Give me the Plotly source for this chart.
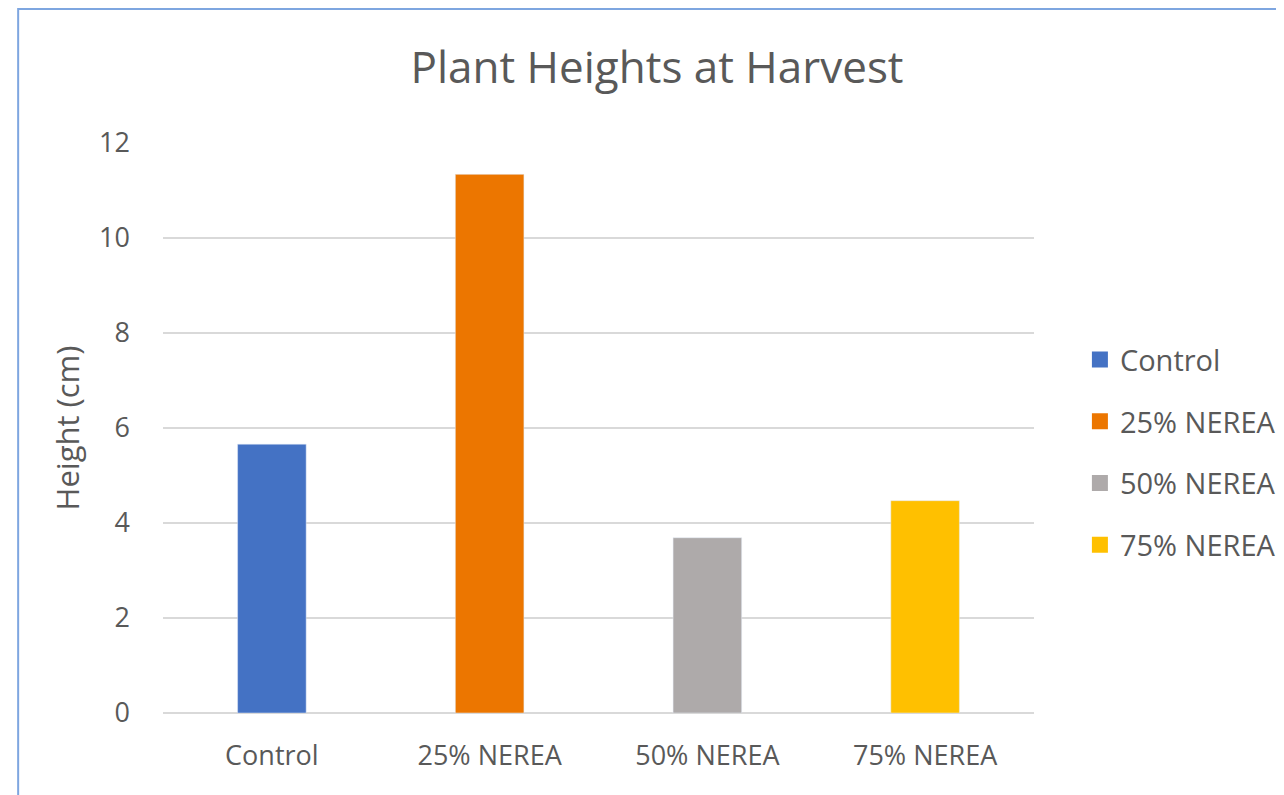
import plotly.graph_objects as go

categories = ["Control", "25% NEREA", "50% NEREA", "75% NEREA"]
heights = [5.66, 11.34, 3.69, 4.47]
colors = ["#4472C4", "#EC7600", "#AEAAAA", "#FFC000"]

y_ticks = [0, 2, 4, 6, 8, 10, 12]

text_col = "#595959"
font_name = "Open Sans"

fig = go.Figure()
for cat, h, c in zip(categories, heights, colors):
    fig.add_trace(go.Bar(
        x=[cat], y=[h], name=cat, marker_color=c, width=0.315,
        showlegend=False, hoverinfo="x+y"
    ))
    # bigger square swatch for the legend
    fig.add_trace(go.Scatter(
        x=[None], y=[None], mode="markers", name=cat, legendgroup=cat,
        marker=dict(symbol="square", size=18, color=c)
    ))

# chart border (only left/top edges visible in the frame)
fig.add_shape(type="rect", xref="paper", yref="paper",
              x0=-0.1663, x1=1.3, y0=-0.3, y1=1.2351,
              line=dict(color="#7EA6E0", width=2), layer="below")

fig.update_layout(
    width=1284, height=795,
    plot_bgcolor="white", paper_bgcolor="white",
    barmode="overlay",
    margin=dict(l=155, r=257, t=135, b=90),
    title=dict(text="Plant Heights at Harvest", x=649 / 1284, xanchor="center",
               y=1 - 60 / 795, yanchor="middle",
               font=dict(family=font_name, size=44, color=text_col)),
    font=dict(family=font_name, color=text_col),
    xaxis=dict(categoryorder="array", categoryarray=categories,
               tickfont=dict(size=27, color=text_col), showline=False,
               ticks="", ticklabelstandoff=24),
    yaxis=dict(range=[0, 12], tickvals=y_ticks, gridcolor="#D9D9D9", gridwidth=1.5,
               zeroline=True, zerolinecolor="#D9D9D9", zerolinewidth=1.5,
               tickfont=dict(size=27, color=text_col), ticks="",
               ticklabelstandoff=32,
               title=dict(text="Height (cm)", font=dict(size=31, color=text_col), standoff=10)),
    legend=dict(x=1.0515, y=0.6645, xanchor="left", yanchor="top",
                font=dict(size=29, color=text_col), tracegroupgap=21,
                itemclick=False, bgcolor="rgba(0,0,0,0)"),
    showlegend=True,
)

fig.write_html("out.html")
